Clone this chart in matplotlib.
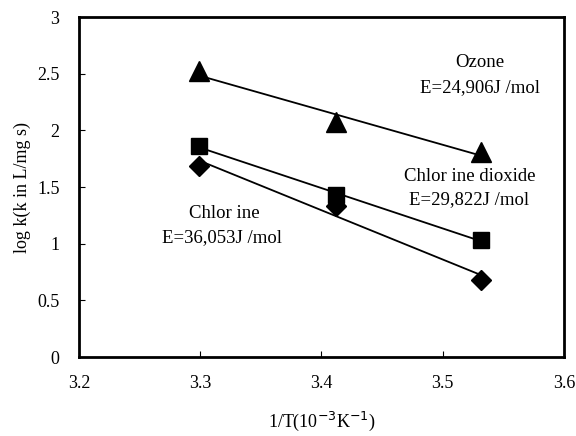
import numpy as np
import matplotlib.pyplot as plt

plt.rcParams['font.family'] = ['Liberation Serif', 'DejaVu Serif']

# 1/T (10^-3 K^-1)
inv_t = [3.299, 3.412, 3.532]
ozone = [2.52, 2.07, 1.81]
dioxido = [1.86, 1.43, 1.03]
cloro = [1.69, 1.33, 0.68]

series = [
    (ozone, '^', 14),
    (dioxido, 's', 12),
    (cloro, 'D', 10),
]

fig = plt.figure(figsize=(5.76, 4.36), dpi=100)
ax = fig.add_axes([0.137, 0.181, 0.842, 0.78])

x = np.array(inv_t)
for valores, marcador, tam in series:
    # recta de ajuste (Arrhenius)
    m, b = np.polyfit(x, valores, 1)
    ax.plot(x, m * x + b, color='black', lw=1.3, zorder=2)
    ax.plot(x, valores, linestyle='none', marker=marcador, markersize=tam,
            color='black', zorder=3)

# Etiquetas de cada serie
fs = 13.5
ax.text(3.531, 2.60, 'Ozone', ha='center', va='center', fontsize=fs)
ax.text(3.531, 2.38, 'E=24,906J /mol', ha='center', va='center', fontsize=fs)
ax.text(3.522, 1.59, 'Chlor ine dioxide', ha='center', va='center', fontsize=fs)
ax.text(3.522, 1.39, 'E=29,822J /mol', ha='center', va='center', fontsize=fs)
ax.text(3.320, 1.27, 'Chlor ine', ha='center', va='center', fontsize=fs)
ax.text(3.318, 1.05, 'E=36,053J /mol', ha='center', va='center', fontsize=fs)

ax.set_xlim(3.2, 3.6)
ax.set_ylim(0, 3)
ax.set_xticks([3.2, 3.3, 3.4, 3.5, 3.6])
ax.set_yticks([0, 0.5, 1, 1.5, 2, 2.5, 3])
ax.set_xticklabels(['3.2', '3.3', '3.4', '3.5', '3.6'])
ax.set_yticklabels(['0', '0.5', '1', '1.5', '2', '2.5', '3'])
ax.tick_params(direction='in', length=4, labelsize=13)
ax.tick_params(axis='y', pad=14)
ax.tick_params(axis='x', pad=13)
for s in ax.spines.values():
    s.set_linewidth(2)

ax.set_xlabel('1/T(10$^{-3}$K$^{-1}$)', fontsize=13, labelpad=13)
ax.set_ylabel('log k(k in L/mg s)', fontsize=13, labelpad=4)

fig.savefig('out.png', dpi=100)
